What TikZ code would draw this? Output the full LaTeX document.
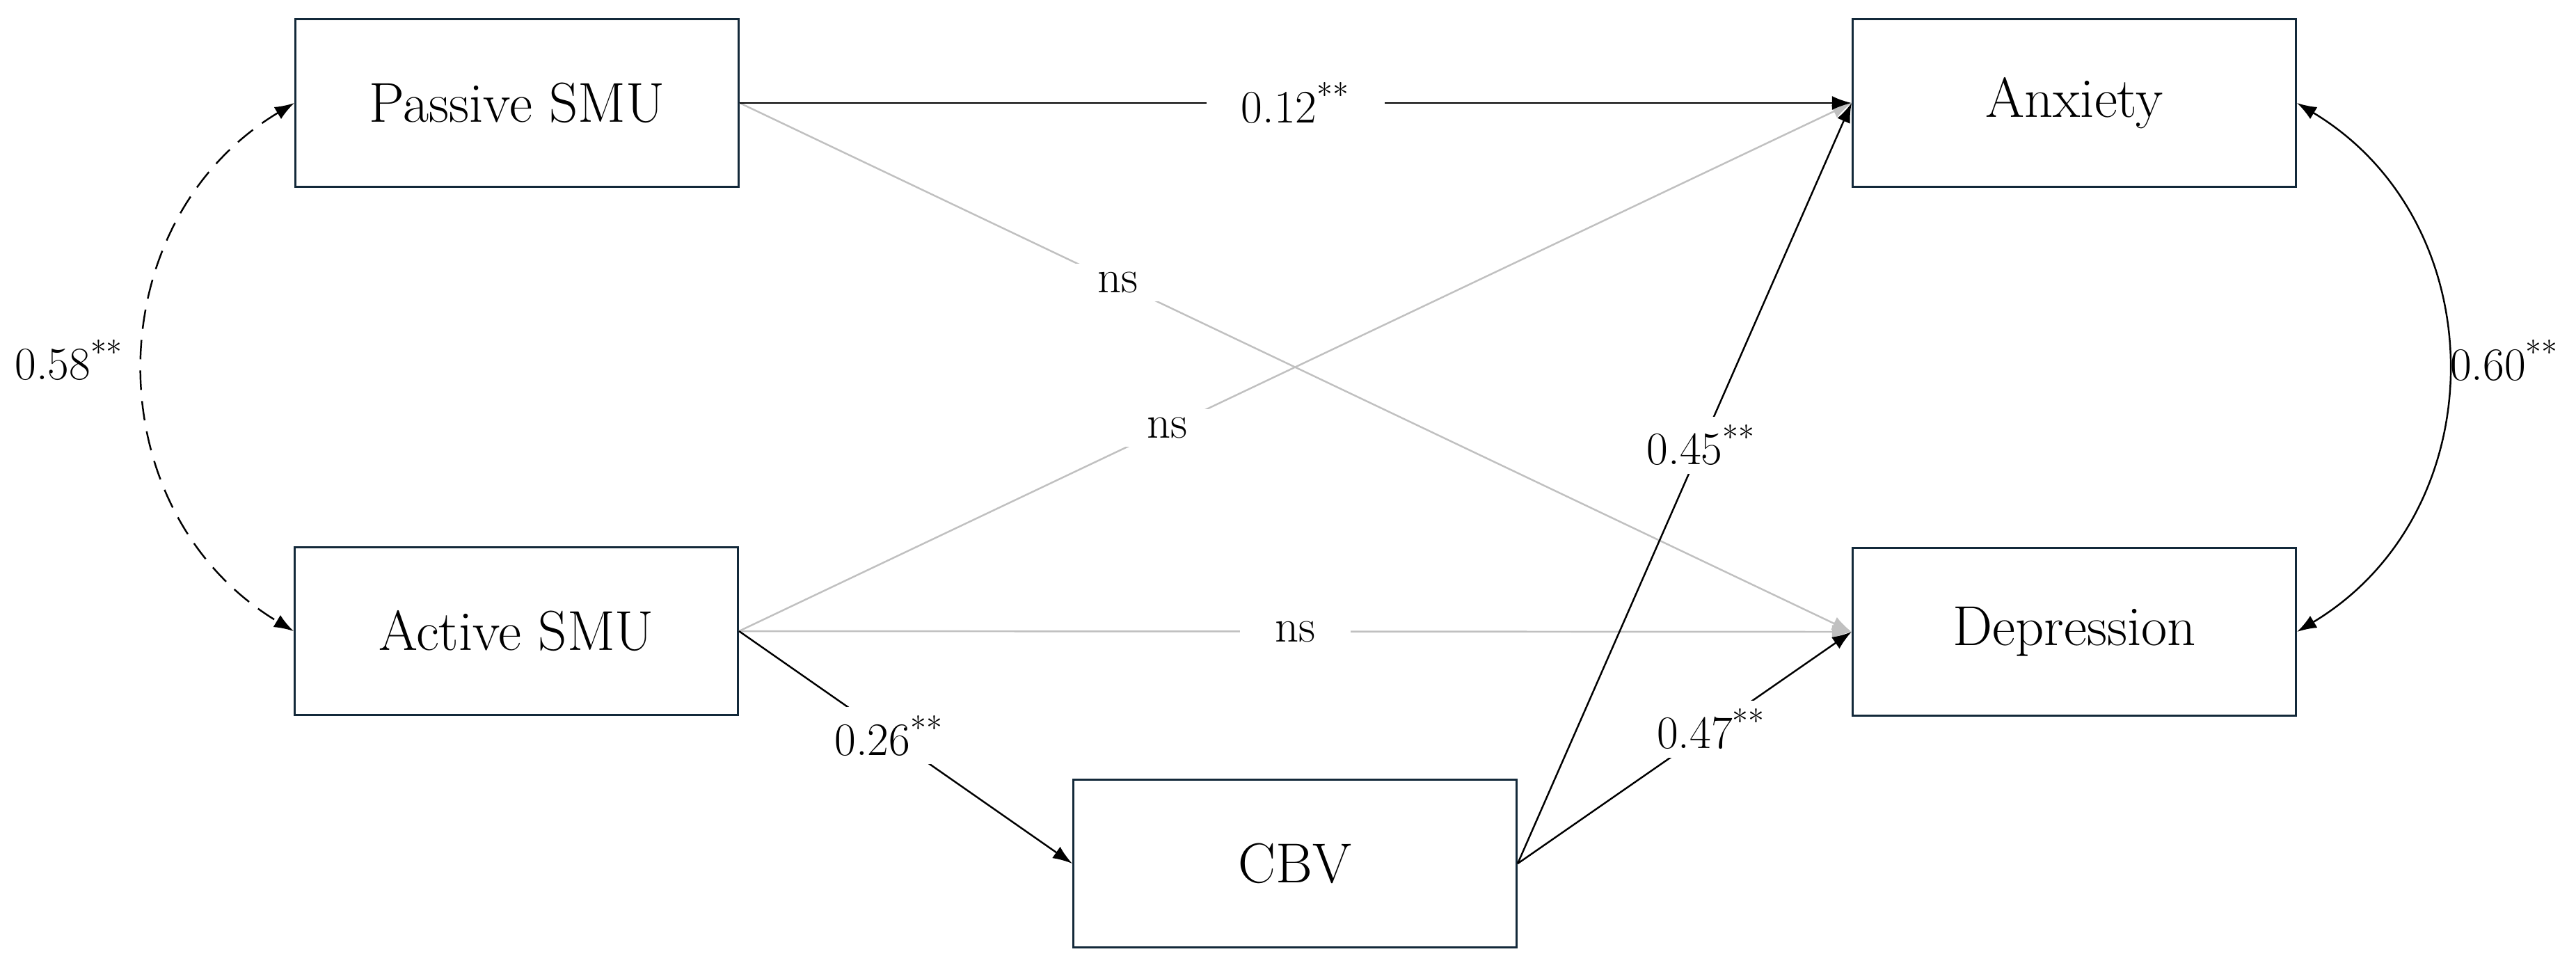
\documentclass[tikz,border=0pt]{standalone}
\usepackage{tikz}
\usetikzlibrary{arrows.meta,positioning}
\definecolor{boxline}{HTML}{13293A}
\definecolor{nsgray}{HTML}{C0C0C0}

\tikzset{
  box/.style={draw=boxline, line width=0.9pt, minimum width=6.37cm, minimum height=2.41cm,
    inner sep=0pt, font=\fontsize{23}{28}\selectfont},
  effect/.style={line width=0.7pt, -{Latex[length=0.28cm, width=0.2cm]}},
  nseffect/.style={effect, draw=nsgray},
  coef/.style={fill=white, inner xsep=0.5cm, inner ysep=0.12cm, text=black,
    font=\fontsize{19}{22}\selectfont},
  corr/.style={line width=0.7pt, {Latex[length=0.28cm, width=0.2cm]}-{Latex[length=0.28cm, width=0.2cm]}},
  corrlab/.style={inner sep=1pt, font=\fontsize{19}{22}\selectfont}
}

\begin{document}
\begin{tikzpicture}
  \useasboundingbox (0,0) rectangle (37.02,-13.93);
  % variables
  \node[box] (passive) at (7.43,-1.48) {Passive SMU};
  \node[box] (active) at (7.42,-9.07) {Active SMU};
  \node[box] (cbv) at (18.61,-12.41) {CBV};
  \node[box] (anxiety) at (29.81,-1.48) {Anxiety};
  \node[box] (depression) at (29.81,-9.08) {Depression};

  % non-significant paths
  \draw[nseffect] (passive.east) -- node[coef, pos=0.34] {ns} (depression.west);
  \draw[nseffect] (active.east) -- node[coef, pos=0.385] {ns} (anxiety.west);
  \draw[nseffect] (active.east) -- node[coef, pos=0.5] {ns} (depression.west);

  % significant paths
  \draw[effect] (passive.east) -- node[coef, pos=0.5] {0.12\textsuperscript{**}} (anxiety.west);
  \draw[effect] (active.east) -- node[coef, pos=0.45] {0.26\textsuperscript{**}} (cbv.west);
  \draw[effect] (cbv.east) -- node[coef, pos=0.55] {0.45\textsuperscript{**}} (anxiety.west);
  \draw[effect] (cbv.east) -- node[coef, pos=0.58] {0.47\textsuperscript{**}} (depression.west);

  % covariances
  \draw[corr, dash pattern=on 0.28cm off 0.16cm] (passive.west) to[out=211, in=149, looseness=1.13]
    node[corrlab, left=0.25cm, yshift=0.1cm] {0.58\textsuperscript{**}} (active.west);
  \draw[corr] (anxiety.east) to[out=-31, in=31, looseness=1.13]
    node[corrlab, right=0pt, yshift=0.1cm] {0.60\textsuperscript{**}} (depression.east);
\end{tikzpicture}
\end{document}
